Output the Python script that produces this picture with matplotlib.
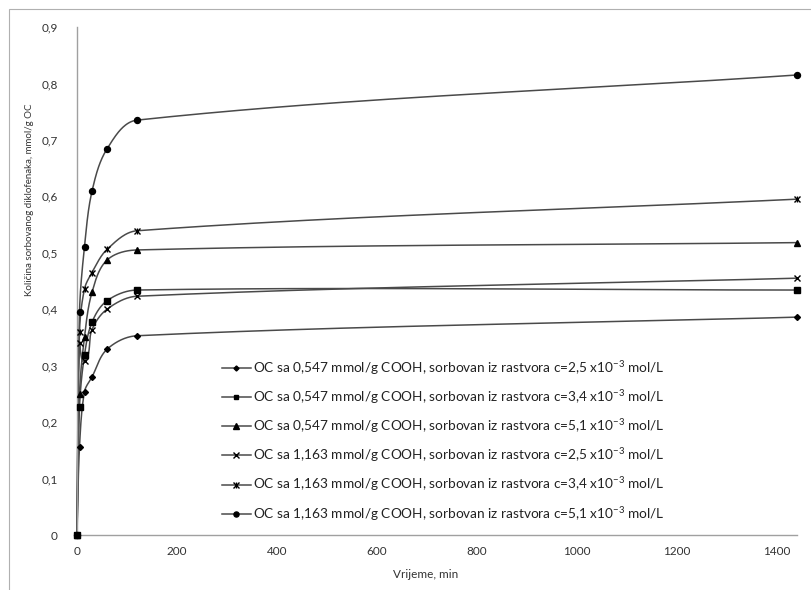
import numpy as np
import matplotlib
matplotlib.use('Agg')
import matplotlib.pyplot as plt
from matplotlib.patches import Rectangle
from matplotlib.ticker import FuncFormatter
from matplotlib.legend_handler import HandlerTuple

plt.rcParams['font.family'] = ['Lato', 'DejaVu Sans']

# time, min
t = [0, 5, 15, 30, 60, 120, 1440]

# sorbed diclofenac, mmol/g OC
s547_25 = [0, 0.156, 0.254, 0.280, 0.329, 0.353, 0.386]
s547_34 = [0, 0.227, 0.319, 0.377, 0.415, 0.434, 0.434]
s547_51 = [0, 0.250, 0.351, 0.430, 0.487, 0.505, 0.518]
s1163_25 = [0, 0.341, 0.308, 0.364, 0.400, 0.423, 0.455]
s1163_34 = [0, 0.360, 0.436, 0.465, 0.506, 0.539, 0.595]
s1163_51 = [0, 0.395, 0.511, 0.609, 0.684, 0.735, 0.815]

sup = r'$^{\mathregular{-3}}$'
labels = [
    'OC sa 0,547 mmol/g COOH, sorbovan iz rastvora c=2,5 x10' + sup + ' mol/L',
    'OC sa 0,547 mmol/g COOH, sorbovan iz rastvora c=3,4 x10' + sup + ' mol/L',
    'OC sa 0,547 mmol/g COOH, sorbovan iz rastvora c=5,1 x10' + sup + ' mol/L',
    'OC sa 1,163 mmol/g COOH, sorbovan iz rastvora c=2,5 x10' + sup + ' mol/L',
    'OC sa 1,163 mmol/g COOH, sorbovan iz rastvora c=3,4 x10' + sup + ' mol/L',
    'OC sa 1,163 mmol/g COOH, sorbovan iz rastvora c=5,1 x10' + sup + ' mol/L',
]
series = [s547_25, s547_34, s547_51, s1163_25, s1163_34, s1163_51]
# excel star marker = x with a vertical bar
markers = [['D'], ['s'], ['^'], ['x'], ['x', '|'], ['o']]
msizes = [3.0, 4.2, 4.3, 4.8, 4.8, 4.3]

XMAX, YMAX = 1440, 0.9
AX_W, AX_H = 720.0, 508.0  # axes size in px, smoothing is done in screen space


def smooth(x, y, n=40):
    # smoothed line through the points, tangent length limited by segment length (no loops)
    px = np.asarray(x, float) / XMAX * AX_W
    py = np.asarray(y, float) / YMAX * AX_H
    P = np.column_stack([px, py])

    def unit(v):
        l = np.hypot(*v)
        return v / l if l > 0 else v

    out = [P[0]]
    for i in range(len(P) - 1):
        p0 = P[i - 1] if i > 0 else P[i]
        p1, p2 = P[i], P[i + 1]
        p3 = P[i + 2] if i + 2 < len(P) else P[i + 1]
        L = np.hypot(*(p2 - p1))
        c1 = p1 + unit(p2 - p0) * L / 3.0
        c2 = p2 - unit(p3 - p1) * L / 3.0
        u = np.linspace(0, 1, n)[1:, None]
        seg = ((1 - u) ** 3) * p1 + 3 * ((1 - u) ** 2) * u * c1 + 3 * (1 - u) * u ** 2 * c2 + u ** 3 * p2
        out.extend(seg)
    out = np.array(out)
    return out[:, 0] / AX_W * XMAX, out[:, 1] / AX_H * YMAX


fig = plt.figure(figsize=(8.11, 5.90), dpi=100)
fig.patches.append(Rectangle((9 / 811, -0.1), 1.2, 1 - 9 / 590 + 0.1, transform=fig.transFigure,
                             fill=False, edgecolor='#b0b0b0', lw=0.8))
ax = fig.add_axes([77 / 811, 55 / 590, 720 / 811, 508 / 590])

handles = []
for y, ms_list, ms in zip(series, markers, msizes):
    sx, sy = smooth(t, y)
    ax.plot(sx, sy, color='#4a4a4a', lw=1.1, zorder=2, clip_on=False)
    hs = []
    for k, m in enumerate(ms_list):
        ax.plot(t, y, linestyle='none', marker=m, color='black', ms=ms, mew=1.0, zorder=3, clip_on=False)
        h, = ax.plot([], [], color='#4a4a4a', lw=1.1 if k == 0 else 0, marker=m, ms=ms * 0.85,
                     mfc='black', mec='black', mew=1.0)
        hs.append(h)
    handles.append(tuple(hs) if len(hs) > 1 else hs[0])

ax.set_xlim(0, XMAX)
ax.set_ylim(0, YMAX)
ax.set_xticks(np.arange(0, 1401, 200))
ax.set_yticks(np.arange(0, 0.91, 0.1))
ax.yaxis.set_major_formatter(FuncFormatter(lambda v, p: '0' if abs(v) < 1e-9 else ('%.1f' % v).replace('.', ',')))
ax.tick_params(length=0, labelsize=8.5, colors='#333333', pad=8)
ax.tick_params(axis='y', pad=14)
for s in ['top', 'right']:
    ax.spines[s].set_visible(False)
for s in ['left', 'bottom']:
    ax.spines[s].set_color('#a0a0a0')
    ax.spines[s].set_linewidth(1.0)

fig.text(426 / 811, 1 - 574 / 590, 'Vrijeme, min', ha='center', va='center', fontsize=8.5, color='#333333')
fig.text(30 / 811, 1 - 200 / 590, 'Količina sorbovanog diklofenaka, mmol/g OC', rotation=90,
         ha='center', va='center', fontsize=7.0, color='#333333')

leg = ax.legend(handles, labels, loc='upper left', bbox_to_anchor=(222 / 811, 1 - 358 / 590),
                bbox_transform=fig.transFigure, handler_map={tuple: HandlerTuple(ndivide=1)},
                frameon=False, fontsize=9.8, labelspacing=0.78, handlelength=2.1, handletextpad=0.2,
                borderaxespad=0, borderpad=0)
for txt in leg.get_texts():
    txt.set_color('#222222')

fig.savefig('out.png', dpi=100)
